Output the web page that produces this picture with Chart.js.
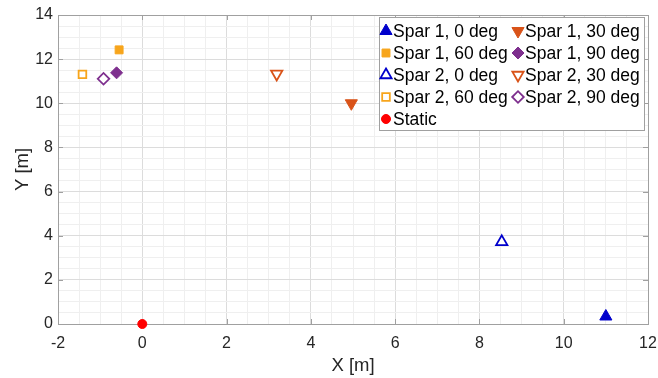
<!DOCTYPE html>
<html>
<head>
<meta charset="utf-8">
<script src="https://cdn.jsdelivr.net/npm/chart.js@4/dist/chart.umd.min.js"></script>
<style>
  html, body { margin: 0; padding: 0; background: #fff; }
</style>
</head>
<body>
<canvas id="sparChart" width="658" height="378"></canvas>
<script>
// data
const seriesNames = ["Spar 1, 0 deg", "Spar 1, 30 deg", "Spar 1, 60 deg", "Spar 1, 90 deg",
                     "Spar 2, 0 deg", "Spar 2, 30 deg", "Spar 2, 60 deg", "Spar 2, 90 deg", "Static"];
const xValues = [11.0, 4.96, -0.55, -0.61, 8.53, 3.19, -1.42, -0.92, 0];
const yValues = [0.34, 10.0, 12.42, 11.38, 3.72, 11.33, 11.31, 11.11, 0];
const xTicks = [-2, 0, 2, 4, 6, 8, 10, 12];
const yTicks = [0, 2, 4, 6, 8, 10, 12, 14];

const BLUE = "#0000cc", RUST = "#d95319", ORANGE = "#f7a51c", PURPLE = "#7e2f8e", RED = "#ff0000";

// marker look per series (same order as seriesNames)
const markers = [
    { style: "triangle", rot: 0,   color: BLUE,   filled: true,  r: 7 },
    { style: "triangle", rot: 180, color: RUST,   filled: true,  r: 7 },
    { style: "rect",     rot: 0,   color: ORANGE, filled: true,  r: 5.6 },
    { style: "rectRot",  rot: 0,   color: PURPLE, filled: true,  r: 6 },
    { style: "triangle", rot: 0,   color: BLUE,   filled: false, r: 6.5 },
    { style: "triangle", rot: 180, color: RUST,   filled: false, r: 6.5 },
    { style: "rect",     rot: 0,   color: ORANGE, filled: false, r: 5.4 },
    { style: "rectRot",  rot: 0,   color: PURPLE, filled: false, r: 5.8 },
    { style: "circle",   rot: 0,   color: RED,    filled: true,  r: 4.5 }
];

const datasets = seriesNames.map(function (name, i) {
    const m = markers[i];
    return {
        label: name,
        data: [{ x: xValues[i], y: yValues[i] }],
        pointStyle: m.style,
        pointRotation: m.rot,
        pointRadius: m.r,
        pointHoverRadius: m.r,
        pointBackgroundColor: m.filled ? m.color : "#ffffff",
        pointBorderColor: m.color,
        pointBorderWidth: m.filled ? 1 : 1.8,
        showLine: false,
        clip: false
    };
});

function isMajor(v, list) {
    return list.some(t => Math.abs(t - v) < 1e-9);
}

const FRAME = "#a0a0a0";

// box and inward tick marks under the markers, two-column legend on top
const framePlugin = {
    id: "frame",
    beforeDatasetsDraw(chart) {
        const ctx = chart.ctx;
        const a = chart.chartArea;
        const xs = chart.scales.x, ys = chart.scales.y;
        ctx.save();
        ctx.strokeStyle = FRAME;
        ctx.lineWidth = 1;
        ctx.beginPath();
        xTicks.forEach(function (t) {
            const px = Math.round(xs.getPixelForValue(t)) + 0.5;
            ctx.moveTo(px, a.bottom); ctx.lineTo(px, a.bottom - 5);
            ctx.moveTo(px, a.top); ctx.lineTo(px, a.top + 5);
        });
        yTicks.forEach(function (t) {
            const py = Math.round(ys.getPixelForValue(t)) + 0.5;
            ctx.moveTo(a.left, py); ctx.lineTo(a.left + 5, py);
            ctx.moveTo(a.right, py); ctx.lineTo(a.right - 5, py);
        });
        ctx.stroke();
        ctx.strokeRect(Math.round(a.left) + 0.5, Math.round(a.top) + 0.5,
                       Math.round(a.right - a.left), Math.round(a.bottom - a.top));
        ctx.restore();
    },
    afterDraw(chart) {
        const ctx = chart.ctx;
        ctx.save();
        const bx = 379.5, by = 17.5, bw = 265, bh = 113;
        ctx.fillStyle = "#ffffff";
        ctx.fillRect(bx, by, bw, bh);
        ctx.strokeStyle = FRAME;
        ctx.lineWidth = 1;
        ctx.strokeRect(bx, by, bw, bh);
        ctx.font = "17.5px 'Liberation Sans', Arial, sans-serif";
        ctx.textBaseline = "middle";
        ctx.textAlign = "left";
        chart.data.datasets.forEach(function (ds, i) {
            const col = i % 2, row = Math.floor(i / 2);
            const mx = col === 0 ? 386 : 518;
            const my = 31 + row * 22;
            ctx.fillStyle = ds.pointBackgroundColor;
            ctx.strokeStyle = ds.pointBorderColor;
            ctx.lineWidth = ds.pointBorderWidth;
            Chart.helpers.drawPoint(ctx, {
                pointStyle: ds.pointStyle,
                rotation: ds.pointRotation,
                radius: ds.pointRadius,
                borderWidth: ds.pointBorderWidth
            }, mx, my);
            ctx.fillStyle = "#000000";
            ctx.fillText(ds.label, mx + 7, my + 1);
        });
        ctx.restore();
    }
};

Chart.defaults.font.family = "'Liberation Sans', Arial, sans-serif";
Chart.defaults.color = "#262626";

new Chart(document.getElementById("sparChart"), {
    type: "scatter",
    data: { datasets: datasets },
    options: {
        responsive: false,
        animation: false,
        layout: { autoPadding: false, padding: { left: 0, right: 10, top: 15, bottom: 0 } },
        plugins: {
            legend: { display: false },
            tooltip: { enabled: false }
        },
        scales: {
            x: {
                type: "linear",
                min: -2,
                max: 12,
                afterFit: function (scale) {
                    scale.height = 54;
                    scale.paddingLeft = 0;
                    scale.paddingRight = 0;
                },
                border: { display: false },
                grid: {
                    drawTicks: false,
                    color: ctx => ctx.tick && isMajor(ctx.tick.value, xTicks) ? "#dcdcdc" : "#efefef"
                },
                ticks: {
                    stepSize: 0.5,
                    autoSkip: false,
                    maxRotation: 0,
                    padding: 10,
                    font: { size: 16 },
                    callback: v => isMajor(v, xTicks) ? String(v) : ""
                },
                title: {
                    display: true,
                    text: "X [m]",
                    font: { size: 18.5 },
                    padding: { top: 0, bottom: 1 }
                }
            },
            y: {
                type: "linear",
                min: 0,
                max: 14,
                afterFit: function (scale) {
                    scale.width = 58;
                    scale.paddingTop = 0;
                    scale.paddingBottom = 0;
                },
                border: { display: false },
                grid: {
                    drawTicks: false,
                    color: ctx => ctx.tick && isMajor(ctx.tick.value, yTicks) ? "#dcdcdc" : "#efefef"
                },
                ticks: {
                    stepSize: 0.5,
                    autoSkip: false,
                    padding: 5,
                    font: { size: 16 },
                    callback: v => isMajor(v, yTicks) ? String(v) : ""
                },
                title: {
                    display: true,
                    text: "Y [m]",
                    font: { size: 18.5 },
                    padding: { top: 12, bottom: 0 }
                }
            }
        }
    },
    plugins: [framePlugin]
});
</script>
</body>
</html>
